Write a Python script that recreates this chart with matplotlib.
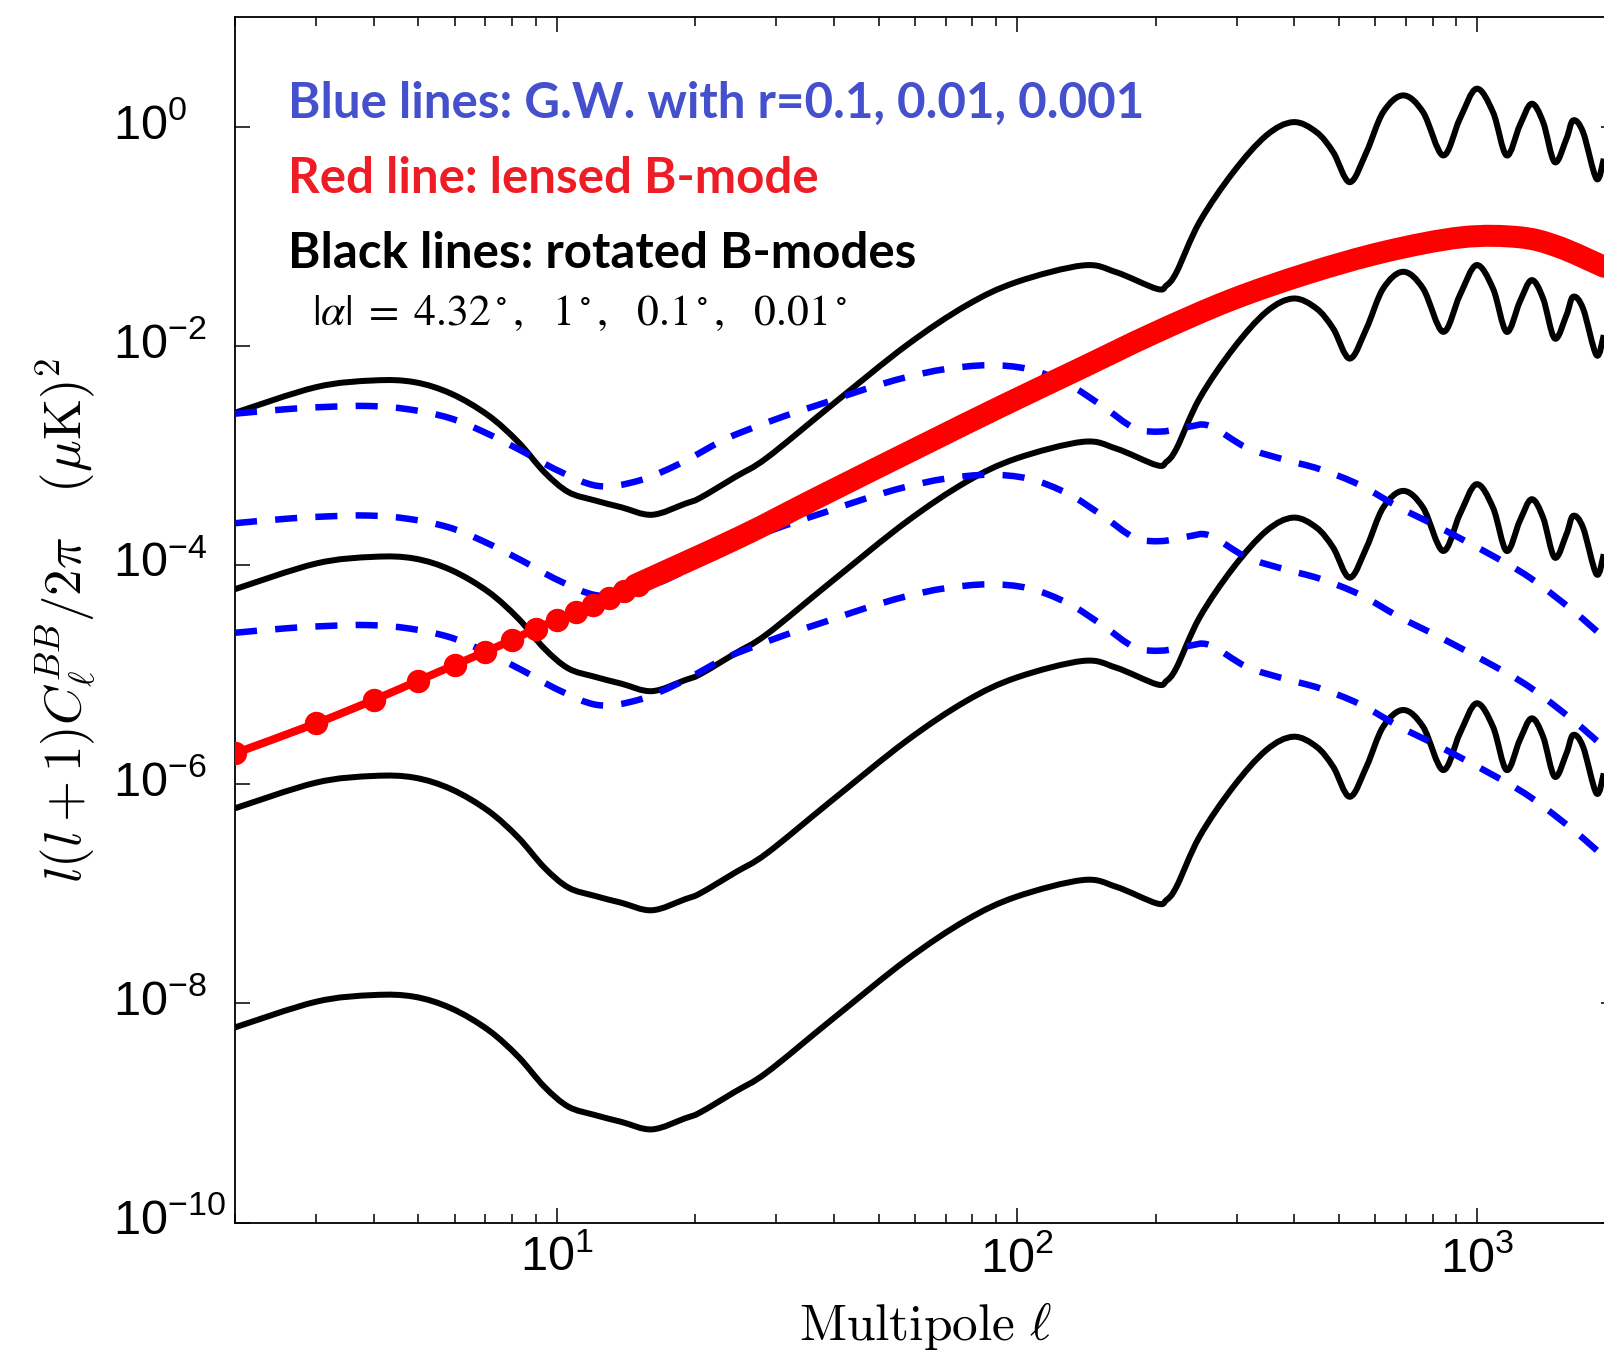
import numpy as np
import matplotlib
matplotlib.use("Agg")
import matplotlib.pyplot as plt
from matplotlib.ticker import FixedLocator, NullLocator, LogLocator, FixedFormatter, NullFormatter
from matplotlib.transforms import ScaledTranslation
from matplotlib.path import Path
from matplotlib.patches import PathPatch

plt.rcParams['font.family'] = ['Liberation Sans', 'DejaVu Sans']
plt.rcParams['mathtext.fontset'] = 'custom'
plt.rcParams['mathtext.rm'] = 'Liberation Sans'
plt.rcParams['mathtext.it'] = 'Liberation Sans:italic'
plt.rcParams['mathtext.bf'] = 'Liberation Sans:bold'

# Rotated B-mode spectrum for |alpha| = 0.01 deg: log10[l(l+1)C_l/2pi]
rot_ell = [2, 3, 4, 4.9, 5.9, 7.1, 8.25, 9.4, 10.6, 12.1, 13.8, 16.1, 19.0, 20.5,
           24.4, 28.6, 39.8, 57.5, 77.6, 99.7, 139, 164, 201, 211, 222, 249, 295,
           348, 398, 447, 486, 528, 574, 624, 690, 762, 842, 916, 995, 1081, 1157,
           1236, 1311, 1389, 1472, 1561, 1614, 1696, 1814, 1881]
rot_log = [-8.219, -7.985, -7.924, -7.939, -8.045, -8.243, -8.487, -8.761, -8.943,
           -9.019, -9.081, -9.150, -9.049, -8.995, -8.806, -8.63, -8.14, -7.604,
           -7.239, -7.026, -6.874, -6.935, -7.087, -7.057, -6.935, -6.479, -6.022,
           -5.687, -5.566, -5.657, -5.840, -6.114, -5.840, -5.475, -5.322, -5.475,
           -5.870, -5.535, -5.261, -5.475, -5.870, -5.596, -5.398, -5.566, -5.931,
           -5.717, -5.550, -5.657, -6.083, -5.900]
# decades above the 0.01 deg curve for |alpha| = 4.32, 1, 0.1, 0.01 deg
rot_shift = [5.61, 4.0, 2.0, 0.0]

# Primordial gravitational-wave B-modes for r = 0.001
gw_ell = [2, 2.57, 3.13, 3.9, 4.76, 5.81, 6.87, 8.39, 10.1, 12.3, 15.0, 18.4, 22.8,
          25.6, 31.3, 38.3, 46.7, 57.0, 69.7, 86.5, 106, 129, 153, 180, 206, 235,
          262, 315, 378, 455, 555, 678, 828, 1064, 1300, 1615, 1884]
gw_log = [-4.617, -4.577, -4.556, -4.547, -4.577, -4.653, -4.775, -4.957, -5.140,
          -5.277, -5.231, -5.078, -4.866, -4.775, -4.638, -4.516, -4.394, -4.288,
          -4.211, -4.175, -4.211, -4.348, -4.546, -4.75, -4.78, -4.738, -4.729,
          -4.927, -5.033, -5.124, -5.268, -5.475, -5.657, -5.900, -6.114, -6.418,
          -6.661]
# decades above the r = 0.001 curve for r = 0.1, 0.01, 0.001
gw_shift = [2.0, 1.0, 0.0]

# Lensed B-mode spectrum
lens_ell = [2, 3, 4, 5, 6, 7, 8, 9, 10, 12, 14.8, 25, 37, 62, 92, 135, 198, 291,
            428, 629, 925, 1234, 1496, 1884]
lens_log = [-5.717, -5.444, -5.231, -5.055, -4.911, -4.790, -4.683, -4.58, -4.50,
            -4.36, -4.181, -3.743, -3.38, -2.91, -2.554, -2.219, -1.884, -1.580,
            -1.336, -1.139, -1.007, -1.007, -1.093, -1.276]
# individually resolved multipoles of the lensed spectrum
lens_pt_ell = [2, 3, 4, 5, 6, 7, 8, 9, 10, 11, 12, 13, 14, 15]
lens_pt_log = [-5.717, -5.444, -5.231, -5.055, -4.911, -4.790, -4.683, -4.58, -4.50,
               -4.43, -4.36, -4.30, -4.24, -4.18]

y_ticks = [1e-10, 1e-8, 1e-6, 1e-4, 1e-2, 1e0]
y_ticklabels = [r'$10^{-10}$', r'$10^{-8}$', r'$10^{-6}$', r'$10^{-4}$', r'$10^{-2}$', r'$10^{0}$']
x_ticks = [10, 100, 1000]
x_ticklabels = [r'$10^{1}$', r'$10^{2}$', r'$10^{3}$']

W, H = 1604, 1362
fig = plt.figure(figsize=(W / 100, H / 100), dpi=100)
ax = fig.add_axes([235 / W, (H - 1222.5) / H, (1616 - 235) / W, (1222.5 - 17.4) / H])
ax.set_xscale('log')
ax.set_yscale('log')
ax.set_xlim(2, 2000)
ax.set_ylim(1e-10, 10)

px = 72 / 100  # points per pixel


def smooth_curve(ax, x, logy, **kw):
    """Draw a Catmull-Rom (cubic Bezier) curve through the given points in log-log space."""
    P = np.column_stack([np.log10(np.asarray(x, float)), np.asarray(logy, float)])
    Pe = np.vstack([P[0], P, P[-1]])
    verts = [P[0]]
    codes = [Path.MOVETO]
    for i in range(len(P) - 1):
        p0, p1, p2, p3 = Pe[i], Pe[i + 1], Pe[i + 2], Pe[i + 3]
        verts += [p1 + (p2 - p0) / 6, p2 - (p3 - p1) / 6, p2]
        codes += [Path.CURVE4] * 3
    verts = 10 ** np.array(verts)
    patch = PathPatch(Path(verts, codes), fill=False, transform=ax.transData, **kw)
    ax.add_patch(patch)
    return patch


# rotated B-modes (black)
for s in rot_shift:
    smooth_curve(ax, rot_ell, np.array(rot_log) + s, edgecolor='black', lw=6 * px,
                 joinstyle='round', capstyle='butt', zorder=2)

# gravitational waves (blue dashed)
for s in gw_shift:
    smooth_curve(ax, gw_ell, np.array(gw_log) + s, edgecolor='#0000ff', lw=6.5 * px,
                 ls=(0, (3.4, 2.8)), capstyle='butt', joinstyle='round', zorder=3)

# lensed B-mode (red)
smooth_curve(ax, lens_ell, lens_log, edgecolor='#ff0000', lw=8 * px, zorder=4)
smooth_curve(ax, lens_ell[10:], lens_log[10:], edgecolor='#ff0000', lw=22 * px,
             capstyle='round', joinstyle='round', zorder=4)
ax.plot(lens_pt_ell, 10 ** np.array(lens_pt_log), ls='none', marker='o',
        ms=22 * px, color='#ff0000', mec='#ff0000', zorder=5)

ax.xaxis.set_major_locator(FixedLocator(x_ticks))
ax.xaxis.set_major_formatter(FixedFormatter(x_ticklabels))
ax.xaxis.set_minor_locator(LogLocator(base=10, subs=np.arange(2, 10), numticks=30))
ax.xaxis.set_minor_formatter(NullFormatter())
ax.yaxis.set_major_locator(FixedLocator(y_ticks))
ax.yaxis.set_major_formatter(FixedFormatter(y_ticklabels))
ax.yaxis.set_minor_locator(NullLocator())

ax.tick_params(which='both', direction='in', top=True, right=True, width=1.1,
               colors='black')
ax.tick_params(which='major', length=15 * px)
ax.tick_params(which='minor', length=9 * px)
ax.tick_params(axis='y', pad=122 * px, labelsize=35)
ax.tick_params(axis='x', pad=13 * px, labelsize=35)
for sp in ax.spines.values():
    sp.set_linewidth(1.3)

shift = ScaledTranslation(0, 6 / 100, fig.dpi_scale_trans)
for lbl in ax.get_yticklabels():
    lbl.set_horizontalalignment('left')
    lbl.set_transform(lbl.get_transform() + shift)

ax.set_xlabel(r'$\mathrm{Multipole}\ \ell$', fontsize=37, math_fontfamily='cm',
              va='baseline')
ax.xaxis.set_label_coords(0.5, (1222.5 - 1340) / 1205.1)
ax.set_ylabel(r'$l(l+1)C_\ell^{BB}/2\pi\ \ \ (\mu\mathrm{K})^2$', fontsize=38,
              math_fontfamily='cm', ha='center', va='center')
ax.yaxis.set_label_coords((66 - 235) / 1381, 0.5)

tx = (288.5 - 235) / 1381
note_kw = dict(transform=ax.transAxes, family='Lato', weight='bold', fontsize=35.5,
               va='baseline', ha='left')
ax.text(tx, (1222.5 - 118.3) / 1205.1, 'Blue lines: G.W. with r=0.1, 0.01, 0.001',
        color='#4450cc', **note_kw)
ax.text(tx, (1222.5 - 193.3) / 1205.1, 'Red line: lensed B-mode',
        color='#ee1c25', **note_kw)
ax.text(tx, (1222.5 - 268.3) / 1205.1, 'Black lines: rotated B-modes',
        color='black', **note_kw)
ax.text((312 - 235) / 1381, (1222.5 - 325) / 1205.1,
        r'$|\alpha|\;=\;4.32^\circ,\;\;\,1^\circ,\;\;\,0.1^\circ,\;\;\,0.01^\circ$',
        transform=ax.transAxes, fontsize=31.5, math_fontfamily='stix',
        color='black', va='baseline', ha='left')

fig.savefig('out.png', dpi=100)
